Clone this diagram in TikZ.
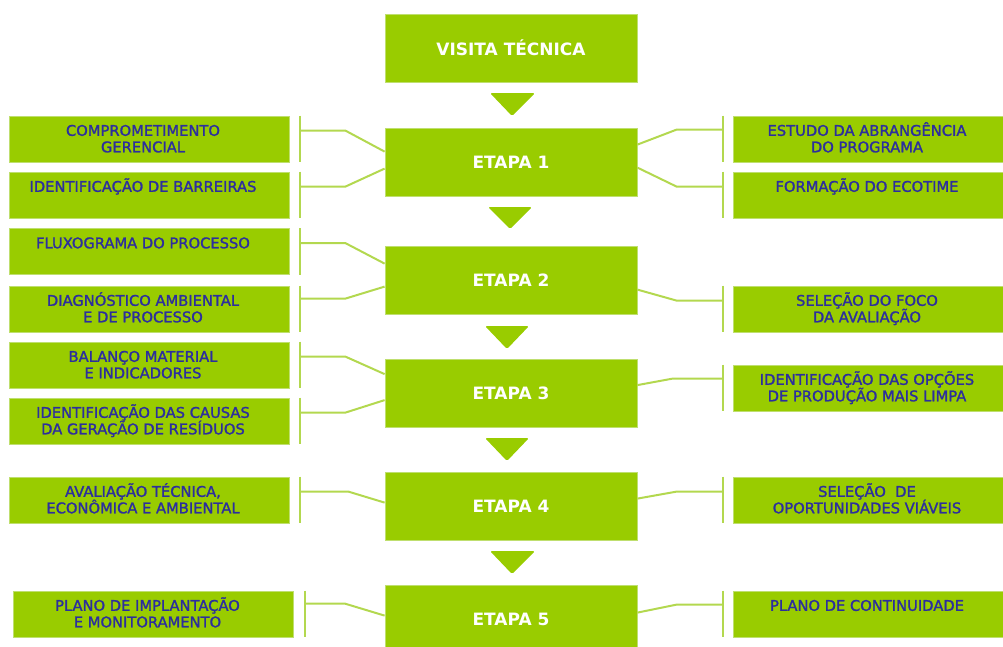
\documentclass[tikz,border=0pt]{standalone}
\usepackage{fontspec}
\setmainfont{DejaVu Sans}
\newfontfamily\sidefont[FakeBold=1.5]{DejaVu Sans}
\usetikzlibrary{calc}
\definecolor{leaf}{HTML}{99CC00}
\definecolor{leafedge}{HTML}{BFDF6F}
\definecolor{leafline}{HTML}{B3D84F}
\definecolor{ink}{HTML}{2C2E9E}
\newcommand{\firstlinestrut}{\rule{0pt}{14pt}}
\begin{document}
\begin{tikzpicture}[x=1pt,y=-1pt,
  mainbox/.style={fill=leaf, draw=leafedge, line width=0.8pt,
    minimum width=252pt, minimum height=68pt, inner sep=0pt,
    text=white, font=\bfseries\fontsize{17}{20}\selectfont},
  sidebox/.style={fill=leaf, draw=leafedge, line width=0.8pt,
    minimum width=280pt, minimum height=46pt, inner sep=0pt},
  rightbox/.style={sidebox, minimum width=270pt},
  sidetext/.style={anchor=north, inner sep=0pt, align=center, text=ink,
    font=\sidefont\fontsize{14.7}{16.5}\selectfont},
  bar/.style={draw=leafline, line width=2pt},
  link/.style={draw=leafline, line width=2pt, line join=round},
  pointer/.style={fill=leaf, rounded corners=1.5pt}
]
\clip (0,0) rectangle (1003,646);

% central sequence
\node[mainbox] (v)  at (511,48)    {VISITA TÉCNICA};
\node[mainbox] (e1) at (511,162)   {ETAPA 1};
\node[mainbox] (e2) at (511,280)   {ETAPA 2};
\node[mainbox] (e3) at (511,393.5) {ETAPA 3};
\node[mainbox] (e4) at (511,506)   {ETAPA 4};
\node[mainbox] (e5) at (511,619)   {ETAPA 5};

% downward pointers between the stages
\fill[pointer] (490,93)  -- (535,93)  -- (512,116) -- cycle;
\fill[pointer] (488,207) -- (532,207) -- (510,229) -- cycle;
\fill[pointer] (485,326) -- (529,326) -- (507,349) -- cycle;
\fill[pointer] (485,438) -- (529,438) -- (507,461) -- cycle;
\fill[pointer] (490,551) -- (535,551) -- (512,574) -- cycle;

% left column
\node[sidebox] (l1) at (149,139) {};
\node[sidebox] (l2) at (149,195) {};
\node[sidebox] (l3) at (149,251.5) {};
\node[sidebox] (l4) at (149,309) {};
\node[sidebox] (l5) at (149,365) {};
\node[sidebox] (l6) at (149,421) {};
\node[sidebox] (l7) at (149,500) {};
\node[sidebox] (l8) at (153.5,614) {};

\node[sidetext] (l1t) at ($(l1.north)+(-6,6)$) {\firstlinestrut COMPROMETIMENTO\\GERENCIAL};
\node[sidetext] (l2t) at ($(l2.north)+(-6,6)$) {\firstlinestrut IDENTIFICAÇÃO DE BARREIRAS};
\node[sidetext] (l3t) at ($(l3.north)+(-6,6)$) {\firstlinestrut FLUXOGRAMA DO PROCESSO};
\node[sidetext] (l4t) at ($(l4.north)+(-6,6)$) {\firstlinestrut DIAGNÓSTICO AMBIENTAL\\E DE PROCESSO};
\node[sidetext] (l5t) at ($(l5.north)+(-6,6)$) {\firstlinestrut BALANÇO MATERIAL\\E INDICADORES};
\node[sidetext] (l6t) at ($(l6.north)+(-6,6)$) {\firstlinestrut IDENTIFICAÇÃO DAS CAUSAS\\DA GERAÇÃO DE RESÍDUOS};
\node[sidetext] (l7t) at ($(l7.north)+(-6,6)$) {\firstlinestrut AVALIAÇÃO TÉCNICA,\\ECONÔMICA E AMBIENTAL};
\node[sidetext] (l8t) at ($(l8.north)+(-6,6)$) {\firstlinestrut PLANO DE IMPLANTAÇÃO\\E MONITORAMENTO};

% right column
\node[rightbox] (r1) at (868,139) {};
\node[rightbox] (r2) at (868,195) {};
\node[rightbox] (r3) at (868,309) {};
\node[rightbox] (r4) at (868,388) {};
\node[rightbox] (r5) at (868,500) {};
\node[rightbox] (r6) at (868,614) {};

\node[sidetext] (r1t) at ($(r1.north)+(-1,6)$) {\firstlinestrut ESTUDO DA ABRANGÊNCIA\\DO PROGRAMA};
\node[sidetext] (r2t) at ($(r2.north)+(-1,6)$) {\firstlinestrut FORMAÇÃO DO ECOTIME};
\node[sidetext] (r3t) at ($(r3.north)+(-1,6)$) {\firstlinestrut SELEÇÃO DO FOCO\\DA AVALIAÇÃO};
\node[sidetext] (r4t) at ($(r4.north)+(-1,6)$) {\firstlinestrut IDENTIFICAÇÃO DAS OPÇÕES\\DE PRODUÇÃO MAIS LIMPA};
\node[sidetext] (r5t) at ($(r5.north)+(-1,6)$) {\firstlinestrut SELEÇÃO\ \ DE\\OPORTUNIDADES VIÁVEIS};
\node[sidetext] (r6t) at ($(r6.north)+(-1,6)$) {\firstlinestrut PLANO DE CONTINUIDADE};

% brackets beside the side boxes
\foreach \b in {l1,l2,l3,l4,l5,l6,l7,l8}
  \draw[bar] ($(\b.north east)+(11,0)$) -- ($(\b.south east)+(11,0)$);
\foreach \b in {r1,r2,r3,r4,r5,r6}
  \draw[bar] ($(\b.north west)+(-10,0)$) -- ($(\b.south west)+(-10,0)$);

% left connectors: bracket -> elbow -> stage box
\draw[link] ($(l1.north east)+(11,15)$) -- ($(l1.north east)+(56,15)$) -- ($(e1.north west)+(0,24)$);
\draw[link] ($(l2.north east)+(11,15)$) -- ($(l2.north east)+(56,15)$) -- ($(e1.north west)+(0,41)$);
\draw[link] ($(l3.north east)+(11,15)$) -- ($(l3.north east)+(56,15)$) -- ($(e2.north west)+(0,18)$);
\draw[link] ($(l4.north east)+(11,13)$) -- ($(l4.north east)+(56,13)$) -- ($(e2.north west)+(0,41)$);
\draw[link] ($(l5.north east)+(11,15)$) -- ($(l5.north east)+(56,15)$) -- ($(e3.north west)+(0,15)$);
\draw[link] ($(l6.north east)+(11,15)$) -- ($(l6.north east)+(56,15)$) -- ($(e3.north west)+(0,41)$);
\draw[link] ($(l7.north east)+(11,15)$) -- ($(l7.north east)+(59,15)$) -- ($(e4.north west)+(0,31)$);
\draw[link] ($(l8.north east)+(11,13)$) -- ($(l8.north east)+(51,13)$) -- ($(e5.north west)+(0,31)$);

% right connectors: bracket -> elbow -> stage box
\draw[link] ($(r1.north west)+(-10,14)$) -- ($(r1.north west)+(-56,14)$) -- ($(e1.north east)+(0,17)$);
\draw[link] ($(r2.north west)+(-10,15)$) -- ($(r2.north west)+(-56,15)$) -- ($(e1.north east)+(0,40)$);
\draw[link] ($(r3.north west)+(-10,15)$) -- ($(r3.north west)+(-56,15)$) -- ($(e2.north east)+(0,44)$);
\draw[link] ($(r4.north west)+(-10,14)$) -- ($(r4.north west)+(-60,14)$) -- ($(e3.north east)+(0,26)$);
\draw[link] ($(r5.north west)+(-10,15)$) -- ($(r5.north west)+(-56,15)$) -- ($(e4.north east)+(0,27)$);
\draw[link] ($(r6.north west)+(-10,14)$) -- ($(r6.north west)+(-56,14)$) -- ($(e5.north east)+(0,28)$);
\end{tikzpicture}
\end{document}
